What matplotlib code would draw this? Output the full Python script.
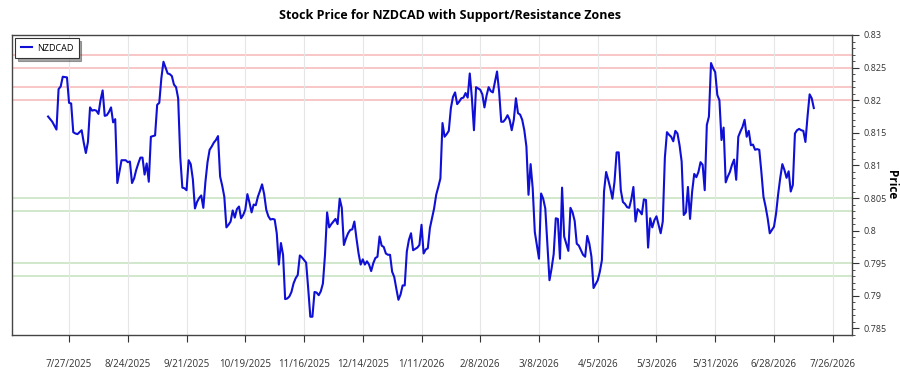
import matplotlib
matplotlib.use('Agg')
import matplotlib.pyplot as plt
from matplotlib.ticker import MultipleLocator, FuncFormatter
import pandas as pd

plt.rcParams['font.family'] = ['Open Sans', 'DejaVu Sans']

symbol = 'NZDCAD'
start_date = '2025-07-17'
day_offset = [0, 2, 4, 5, 6, 7, 9] + list(range(10, 50)) + list(range(51, 56)) + list(range(57, 366))

price = [
    # days 0..72
    0.8175, 0.8167, 0.8155, 0.8217, 0.8221, 0.8236, 0.8235, 0.8196, 0.8195, 0.8151,
    0.8149, 0.8148, 0.8151, 0.8154, 0.8135, 0.8119, 0.8136, 0.8189, 0.8184, 0.8185,
    0.8184, 0.8179, 0.8200, 0.8215, 0.8176, 0.8177, 0.8182, 0.8189, 0.8166, 0.8171,
    0.8073, 0.8090, 0.8108, 0.8108, 0.8108, 0.8105, 0.8106, 0.8073, 0.8080, 0.8093,
    0.8103, 0.8112, 0.8112, 0.8086, 0.8103, 0.8075, 0.8144, 0.8146, 0.8193, 0.8196,
    0.8234, 0.8259, 0.8241, 0.8240, 0.8237, 0.8224, 0.8220, 0.8203, 0.8113, 0.8066,
    0.8065, 0.8062, 0.8108, 0.8102, 0.8079, 0.8034, 0.8044, 0.8050,
    # days 73..146
    0.8054, 0.8035, 0.8075, 0.8105, 0.8124, 0.8129, 0.8135, 0.8139, 0.8145, 0.8083,
    0.8069, 0.8052, 0.8005, 0.8009, 0.8014, 0.8031, 0.8020, 0.8033, 0.8037, 0.8019,
    0.8024, 0.8032, 0.8056, 0.8043, 0.8028, 0.8040, 0.8039, 0.8052, 0.8061, 0.8071,
    0.8056, 0.8032, 0.8022, 0.8017, 0.8018, 0.8017, 0.7996, 0.7948, 0.7981, 0.7963,
    0.7895, 0.7896, 0.7899, 0.7906, 0.7919, 0.7927, 0.7932, 0.7962, 0.7959, 0.7955,
    0.7951, 0.7911, 0.7868, 0.7868, 0.7906, 0.7905, 0.7901, 0.7907, 0.7919, 0.7963,
    0.8028, 0.8005, 0.8010, 0.8014, 0.8018, 0.8010, 0.8049, 0.8035, 0.7978, 0.7988,
    0.7996, 0.8001, 0.8002, 0.8014,
    # days 147..220
    0.7988, 0.7965, 0.7948, 0.7956, 0.7948, 0.7953, 0.7948, 0.7938, 0.7950, 0.7958,
    0.7960, 0.7991, 0.7977, 0.7975, 0.7965, 0.7963, 0.7963, 0.7937, 0.7929, 0.7911,
    0.7894, 0.7902, 0.7916, 0.7916, 0.7968, 0.7986, 0.7996, 0.7970, 0.7972, 0.7974,
    0.7978, 0.8009, 0.7965, 0.7971, 0.7973, 0.8004, 0.8019, 0.8034, 0.8055, 0.8067,
    0.8080, 0.8165, 0.8144, 0.8148, 0.8153, 0.8188, 0.8205, 0.8212, 0.8194, 0.8198,
    0.8203, 0.8204, 0.8211, 0.8204, 0.8241, 0.8204, 0.8154, 0.8220, 0.8218, 0.8216,
    0.8209, 0.8189, 0.8207, 0.8220, 0.8214, 0.8212, 0.8228, 0.8244, 0.8213, 0.8167,
    0.8167, 0.8171, 0.8177, 0.8170,
    # days 221..294
    0.8154, 0.8170, 0.8203, 0.8180, 0.8178, 0.8170, 0.8154, 0.8129, 0.8055, 0.8102,
    0.8065, 0.7998, 0.7978, 0.7957, 0.8057, 0.8049, 0.8034, 0.7978, 0.7924, 0.7942,
    0.7964, 0.8019, 0.8018, 0.7957, 0.8066, 0.7991, 0.7980, 0.7969, 0.8035, 0.8028,
    0.8015, 0.7980, 0.7977, 0.7970, 0.7963, 0.7960, 0.7992, 0.7980, 0.7960, 0.7912,
    0.7918, 0.7924, 0.7937, 0.7955, 0.8060, 0.8090, 0.8078, 0.8065, 0.8049, 0.8075,
    0.8120, 0.8120, 0.8062, 0.8044, 0.8041, 0.8036, 0.8035, 0.8048, 0.8067, 0.8014,
    0.8033, 0.8030, 0.8025, 0.8048, 0.8047, 0.7974, 0.8019, 0.8005, 0.8016, 0.8022,
    0.8009, 0.7996, 0.8014, 0.8112,
    # days 295..365
    0.8151, 0.8147, 0.8144, 0.8137, 0.8153, 0.8149, 0.8131, 0.8106, 0.8024, 0.8028,
    0.8067, 0.8018, 0.8060, 0.8087, 0.8082, 0.8090, 0.8105, 0.8101, 0.8062, 0.8162,
    0.8175, 0.8257, 0.8249, 0.8243, 0.8208, 0.8200, 0.8139, 0.8158, 0.8074, 0.8083,
    0.8090, 0.8101, 0.8109, 0.8078, 0.8144, 0.8152, 0.8159, 0.8170, 0.8144, 0.8153,
    0.8131, 0.8132, 0.8124, 0.8125, 0.8124, 0.8090, 0.8052, 0.8037, 0.8019, 0.7996,
    0.8001, 0.8006, 0.8026, 0.8056, 0.8081, 0.8102, 0.8093, 0.8081, 0.8091, 0.8060,
    0.8070, 0.8149, 0.8154, 0.8156, 0.8154, 0.8153, 0.8136, 0.8175, 0.8209, 0.8203,
    0.8188,
]

resistance_levels = [0.827, 0.825, 0.822, 0.820]
support_levels = [0.805, 0.803, 0.795, 0.793]
tick_dates = pd.date_range('2025-07-27', periods=14, freq='28D')
title = 'Stock Price for NZDCAD with Support/Resistance Zones'

start = pd.Timestamp(start_date)
dates = start + pd.to_timedelta(day_offset, unit='D')

fig = plt.figure(figsize=(9, 3.75), dpi=100)
ax = fig.add_axes([12 / 900, 40 / 375, 840 / 900, 300 / 375])

for lvl in resistance_levels:
    ax.axhline(lvl, color='#f6b8b8', lw=1.1, zorder=1)
for lvl in support_levels:
    ax.axhline(lvl, color='#c4e2bf', lw=1.1, zorder=1)

ax.plot(dates, price, color='#0f0fd6', lw=1.5, label=symbol, zorder=3)

ax.set_xlim(start - pd.Timedelta(days=17.2), start + pd.Timedelta(days=383.2))
ax.set_ylim(0.784, 0.83)

ax.set_xticks(tick_dates)
ax.set_xticklabels([f'{d.month}/{d.day}/{d.year}' for d in tick_dates])
ax.grid(axis='x', color='#e6e6e6', lw=0.8, zorder=0)

ax.yaxis.tick_right()
ax.yaxis.set_label_position('right')
ax.yaxis.set_major_locator(MultipleLocator(0.005))
ax.yaxis.set_minor_locator(MultipleLocator(0.001))
ax.yaxis.set_major_formatter(FuncFormatter(lambda v, p: f'{v:.3f}'.rstrip('0').rstrip('.')))
ax.tick_params(axis='y', which='major', direction='out', length=5, labelsize=6.5,
               labelcolor='#333333', color='#333333', pad=3)
ax.tick_params(axis='y', which='minor', direction='out', length=2.5, color='#333333')
ax.tick_params(axis='x', which='major', direction='out', length=5, labelsize=7,
               labelcolor='#333333', color='#333333', pad=12)
ax.set_ylabel('Price', rotation=270, fontsize=8.5, fontweight='bold', va='center')
ax.yaxis.set_label_coords(1.0475, 0.5)

for s in ax.spines.values():
    s.set_color('#444444')
    s.set_linewidth(1.0)

leg = ax.legend(loc='upper left', bbox_to_anchor=(0.0, 1.0), borderaxespad=0.35,
                fontsize=6.5, frameon=True, fancybox=False, shadow=True,
                edgecolor='#333333', handlelength=1.3, handletextpad=0.5, borderpad=0.6)
leg.get_frame().set_linewidth(0.8)

fig.text(0.5, 1 - 15 / 375, title, ha='center', va='center', fontsize=9, fontweight='bold')

fig.savefig('out.png', dpi=100)
